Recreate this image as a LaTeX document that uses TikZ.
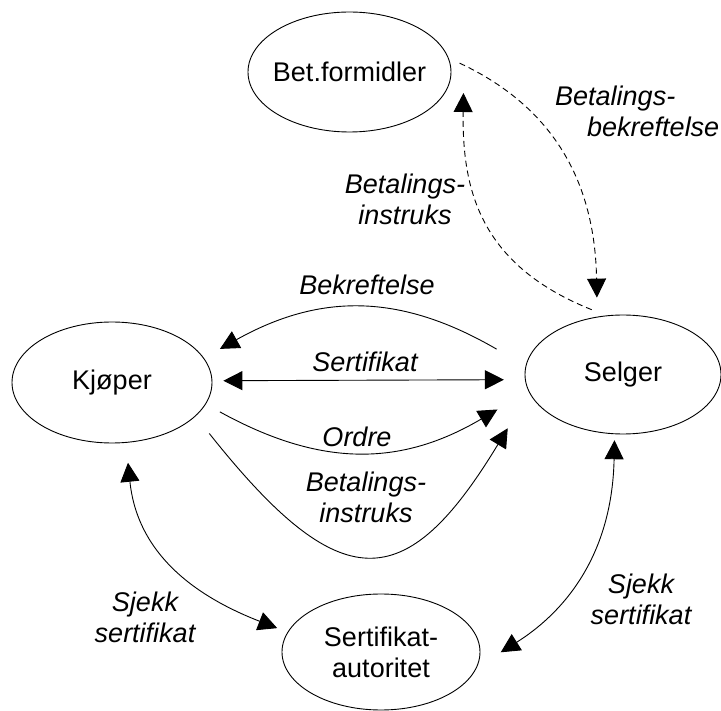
\documentclass[tikz,border=0pt]{standalone}
\usepackage{fontspec}
\setmainfont{Liberation Sans}
\usetikzlibrary{arrows.meta,shapes.geometric,calc}
\begin{document}
\begin{tikzpicture}[x=1pt,y=-1pt,
  >={Triangle[length=19pt,width=19pt]},
  ent/.style={ellipse,draw,line width=0.9pt,inner sep=0pt,align=center,
    font=\fontsize{27}{31}\selectfont},
  lbl/.style={inner sep=0pt,align=center,font=\fontsize{27}{31}\selectfont\itshape},
  conn/.style={line width=0.9pt},
  dconn/.style={line width=0.9pt,dash pattern=on 6pt off 4pt}]
\fill[white] (0,0) rectangle (721,711);
\useasboundingbox (0,0) rectangle (721,711);

% entities
\node[ent,minimum width=203pt,minimum height=120pt,inner xsep=-12pt] (bet) at (349.5,72) {Bet.formidler};
\node[ent,minimum width=200pt,minimum height=121pt] (kjo) at (112,382.5) {Kjøper};
\node[ent,minimum width=196pt,minimum height=119pt] (sel) at (623,374.5) {Selger};
\node[ent,minimum width=198pt,minimum height=116pt] (sa) at (381,652) {Sertifikat-\\autoritet};

% labels
\node[lbl,anchor=west,align=left] (lbbk) at (555,111) {Betalings-\\\hspace*{32pt}bekreftelse};
\node[lbl] (lbbi) at (405,199) {Betalings-\\instruks};
\node[lbl] (lbk) at (367,285) {Bekreftelse};
\node[lbl] (lbs) at (365,362) {Sertifikat};
\node[lbl] (lbo) at (357,437) {Ordre};
\node[lbl] (lbbi2) at (366,497) {Betalings-\\instruks};
\node[lbl] (lbsj1) at (145,617) {Sjekk\\sertifikat};
\node[lbl] (lbsj2) at (641,599) {Sjekk\\sertifikat};

% connectors
\draw[conn,->,shorten <=33.5pt,shorten >=18.4pt] (sel.175.6) .. controls (400,293) and (320,293) .. (kjo.15.5);
\draw[conn,<->,shorten <=11pt,shorten >=21pt] (kjo.1) -- (sel.183);
\draw[conn,->,shorten <=16pt,shorten >=36pt] (kjo.-13.5) .. controls (320,467) and (400,467) .. (sel.190.5);
\draw[conn,->,shorten <=22pt,shorten >=41.5pt] (kjo.-22) .. controls (340,598) and (405,598) .. (sel.191);
\draw[conn,<->,shorten <=20pt,shorten >=11pt] (kjo.-77) .. controls (138,560) and (205,600) .. (sa.168);
\draw[conn,<->,shorten <=6pt,shorten >=28pt] (sel.262) .. controls (612,560) and (560,615) .. (sa.-9.6);
\draw[dconn,->,shorten <=15.5pt] (sel.106) .. controls (480,265) and (462,190) .. ($(bet.east)+(12,21)$);
\draw[dconn,->,shorten <=12pt,shorten >=19pt] (bet.8) .. controls (560,110) and (595,190) .. (sel.114);
\end{tikzpicture}
\end{document}
